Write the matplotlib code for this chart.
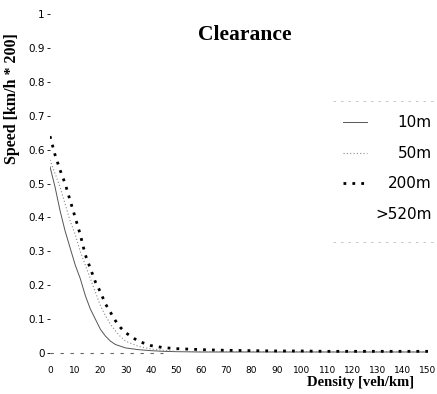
import matplotlib
matplotlib.use("Agg")
import matplotlib.pyplot as plt
from matplotlib.lines import Line2D

# values
density = [0, 2, 4, 6, 8, 10, 12, 14, 16, 18, 20, 22, 24, 26, 28, 30, 35, 40, 45, 50,
           60, 70, 80, 90, 100, 110, 120, 130, 140, 150]
speed_10m = [0.55, 0.49, 0.42, 0.36, 0.31, 0.26, 0.22, 0.17, 0.13, 0.10, 0.07, 0.05,
             0.035, 0.025, 0.02, 0.015, 0.01, 0.007, 0.005, 0.004,
             0.003, 0.003, 0.003, 0.003, 0.003, 0.003, 0.003, 0.003, 0.003, 0.003]
speed_50m = [0.57, 0.53, 0.49, 0.44, 0.39, 0.35, 0.30, 0.26, 0.22, 0.18, 0.14, 0.11,
             0.085, 0.065, 0.048, 0.035, 0.02, 0.012, 0.008, 0.005,
             0.004, 0.004, 0.004, 0.004, 0.004, 0.004, 0.004, 0.004, 0.004, 0.004]
speed_200m = [0.64, 0.585, 0.54, 0.50, 0.45, 0.40, 0.35, 0.29, 0.25, 0.21, 0.18, 0.145,
              0.12, 0.095, 0.075, 0.06, 0.035, 0.022, 0.016, 0.013,
              0.01, 0.008, 0.007, 0.006, 0.006, 0.005, 0.005, 0.005, 0.005, 0.005]
speed_520m = [0.0] * len(density)

labels = ['10m', '50m', '200m', '>520m']
yticks = [0, 0.1, 0.2, 0.3, 0.4, 0.5, 0.6, 0.7, 0.8, 0.9, 1]
ytick_labels = ['0', '0.1', '0.2', '0.3', '0.4', '0.5', '0.6', '0.7', '0.8', '0.9', '1']
xticks = list(range(0, 151, 10))

styles = [
    dict(color='#555555', lw=0.7, ls='-'),
    dict(color='#888888', lw=0.8, ls=(0, (1, 2))),
    dict(color='black', lw=2.0, ls=(0, (1, 2.2))),
    dict(color='#666666', lw=0.8, ls=(0, (3, 6))),
]

fig = plt.figure(figsize=(4.37, 3.94), dpi=100)
ax = fig.add_axes([0.1144, 0.104, 0.865, 0.860])

ax.plot(density, speed_10m, **styles[0])
ax.plot(density, speed_50m, **styles[1])
ax.plot(density, speed_200m, **styles[2])
ax.plot(density[:19], speed_520m[:19], clip_on=False, **styles[3])

ax.set_xlim(0, 150)
ax.set_ylim(0, 1)
for s in ax.spines.values():
    s.set_visible(False)

ax.set_yticks(yticks)
ax.set_yticklabels(ytick_labels)
ax.set_xticks(xticks)
ax.tick_params(axis='y', length=2, width=0.6, pad=2, labelsize=7.5, direction='out')
ax.tick_params(axis='x', length=0, pad=9, labelsize=6.5)

fig.text(0.56, 0.91, 'Clearance', family='Liberation Serif', fontweight='bold',
         fontsize=15.5, ha='center', va='center')
fig.text(0.028, 0.75, 'Speed [km/h * 200]', family='Liberation Serif', fontweight='bold',
         fontsize=11.5, rotation=90, ha='center', va='center')
fig.text(0.826, 0.028, 'Density [veh/km]', family='Liberation Serif', fontweight='bold',
         fontsize=10.5, ha='center', va='center')

# hand-made legend: labels right-aligned, only faint top/bottom rules of the box survive
for yy in (0.743, 0.327):
    ax.add_line(Line2D([0.75, 1.02], [yy, yy], transform=ax.transAxes, color='#bbbbbb',
                       lw=0.6, ls=(0, (3, 6)), clip_on=False))
row_y = [0.681, 0.590, 0.501, 0.410]
for i, lab in enumerate(labels):
    if i < 3:
        ax.add_line(Line2D([0.775, 0.839], [row_y[i], row_y[i]], transform=ax.transAxes,
                           clip_on=False, **styles[i]))
    ax.text(1.01, row_y[i], lab, transform=ax.transAxes, ha='right', va='center',
            fontsize=11)

fig.savefig('out.png', dpi=100)
